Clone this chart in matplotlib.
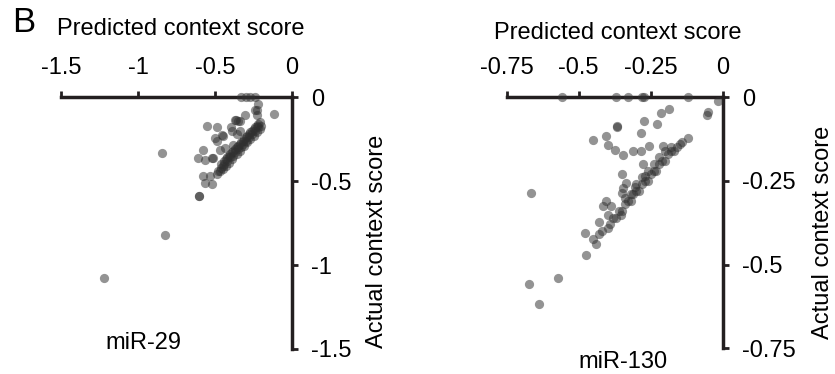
import matplotlib
matplotlib.use("Agg")
import matplotlib.pyplot as plt

plt.rcParams['font.family'] = ['Liberation Sans', 'DejaVu Sans']

# miR-29: predicted vs actual context score
mir29_pred = [-0.33, -0.30, -0.27, -0.24, -0.117, -0.22, -0.225, -0.225, -0.305, -0.366,
              -0.338, -0.554, -0.489, -0.398, -0.355, -0.456, -0.489, -0.846, -0.576, -0.608,
              -0.521, -0.468, -0.435, -0.576, -0.532, -0.565, -0.521, -0.602, -0.602, -0.825,
              -1.219, -0.37, -0.349, -0.24, -0.446, -0.392, -0.338, -0.381, -0.5, -0.565,
              -0.511,
              -0.49, -0.47, -0.46, -0.45, -0.44, -0.43, -0.42, -0.41, -0.40, -0.39,
              -0.38, -0.37, -0.36, -0.35, -0.34, -0.33, -0.32, -0.31, -0.30, -0.29,
              -0.28, -0.27, -0.26, -0.25, -0.24, -0.23, -0.22, -0.21, -0.20, -0.22,
              -0.24, -0.26, -0.28, -0.30, -0.32, -0.34, -0.36, -0.38, -0.40, -0.42,
              -0.44, -0.46, -0.48, -0.45, -0.21, -0.23, -0.25, -0.27, -0.29, -0.31,
              -0.33, -0.35, -0.37, -0.39, -0.41, -0.43]
mir29_act = [0.0, 0.0, 0.0, 0.0, -0.10, -0.04, -0.076, -0.105, -0.105, -0.135,
             -0.145, -0.175, -0.179, -0.179, -0.218, -0.224, -0.264, -0.335, -0.318, -0.363,
             -0.363, -0.314, -0.304, -0.473, -0.473, -0.512, -0.516, -0.588, -0.59, -0.819,
             -1.077, -0.135, -0.145, -0.076, -0.234, -0.205, -0.205, -0.284, -0.244, -0.373,
             -0.363,
             -0.46, -0.44, -0.42, -0.43, -0.40, -0.41, -0.38, -0.39, -0.36, -0.37,
             -0.35, -0.33, -0.34, -0.31, -0.32, -0.30, -0.28, -0.29, -0.26, -0.27,
             -0.24, -0.25, -0.22, -0.23, -0.20, -0.21, -0.18, -0.19, -0.17, -0.16,
             -0.18, -0.20, -0.22, -0.24, -0.26, -0.28, -0.30, -0.32, -0.34, -0.36,
             -0.38, -0.40, -0.44, -0.41, -0.15, -0.17, -0.19, -0.21, -0.23, -0.25,
             -0.27, -0.29, -0.31, -0.33, -0.35, -0.37]

# miR-130: predicted vs actual context score
mir130_pred = [-0.559, -0.370, -0.330, -0.281, -0.273, -0.119, -0.015, -0.05, -0.053, -0.185,
               -0.214, -0.272, -0.227, -0.366, -0.366, -0.285, -0.451, -0.405, -0.397, -0.374,
               -0.345, -0.313, -0.285, -0.255, -0.206, -0.122, -0.142, -0.278, -0.351, -0.336,
               -0.345, -0.351, -0.305, -0.270, -0.666, -0.405, -0.415, -0.389, -0.397, -0.354,
               -0.428, -0.478, -0.451, -0.440, -0.475, -0.571, -0.672, -0.637,
               -0.40, -0.39, -0.38, -0.37, -0.36, -0.35, -0.34, -0.33, -0.32, -0.31,
               -0.30, -0.29, -0.28, -0.27, -0.26, -0.25, -0.24, -0.23, -0.22, -0.21,
               -0.20, -0.19, -0.18, -0.17, -0.16, -0.15, -0.34, -0.30, -0.26, -0.22,
               -0.32, -0.28, -0.24, -0.20, -0.18, -0.43, -0.42]
mir130_act = [0.0, 0.0, 0.0, 0.0, 0.0, 0.0, -0.013, -0.046, -0.053, -0.036,
              -0.048, -0.073, -0.080, -0.087, -0.09, -0.107, -0.127, -0.117, -0.142, -0.157,
              -0.173, -0.162, -0.162, -0.145, -0.145, -0.122, -0.135, -0.199, -0.231, -0.256,
              -0.271, -0.286, -0.268, -0.236, -0.288, -0.311, -0.324, -0.326, -0.353, -0.353,
              -0.373, -0.405, -0.425, -0.44, -0.471, -0.539, -0.557, -0.618,
              -0.39, -0.38, -0.36, -0.36, -0.34, -0.34, -0.32, -0.31, -0.31, -0.29,
              -0.28, -0.28, -0.26, -0.25, -0.25, -0.23, -0.22, -0.22, -0.20, -0.19,
              -0.19, -0.17, -0.16, -0.16, -0.15, -0.14, -0.30, -0.26, -0.22, -0.18,
              -0.29, -0.24, -0.20, -0.16, -0.15, -0.41, -0.40]

left_xticks = [-1.5, -1, -0.5, 0]
left_yticks = [0, -0.5, -1, -1.5]
right_xticks = [-0.75, -0.5, -0.25, 0]
right_yticks = [0, -0.25, -0.5, -0.75]

W, H = 835, 374
fig = plt.figure(figsize=(W / 100, H / 100), dpi=100)


def px(x0, y0, x1, y1):
    # pixel box (top-left origin) -> figure fraction rect
    return [x0 / W, 1 - y1 / H, (x1 - x0) / W, (y1 - y0) / H]


def style_axis(ax, xticks, yticks, lim):
    ax.set_xlim(lim, 0)
    ax.set_ylim(lim, 0)
    for s in ['left', 'bottom']:
        ax.spines[s].set_visible(False)
    for s in ['top', 'right']:
        ax.spines[s].set_linewidth(2.5)
        ax.spines[s].set_color('#231f20')
    ax.xaxis.tick_top()
    ax.yaxis.tick_right()
    ax.set_xticks(xticks)
    ax.set_yticks(yticks)
    ax.set_xticklabels([f"{t:g}" for t in xticks])
    ax.set_yticklabels([f"{t:g}" for t in yticks])
    ax.tick_params(direction='out', length=4, width=2, color='#231f20',
                   labelsize=17, pad=9)
    ax.tick_params(axis='y', pad=10)
    ax.patch.set_visible(False)


ax1 = fig.add_axes(px(61, 97, 292, 349))
ax1.scatter(mir29_pred, mir29_act, s=44, color='#303030', alpha=0.52,
            linewidths=0, clip_on=False, zorder=3)
style_axis(ax1, left_xticks, left_yticks, -1.5)

ax2 = fig.add_axes(px(506.7, 97, 722.7, 348.3))
ax2.scatter(mir130_pred, mir130_act, s=44, color='#303030', alpha=0.52,
            linewidths=0, clip_on=False, zorder=3)
style_axis(ax2, right_xticks, right_yticks, -0.75)

fig.text(12 / W, 1 - 23 / H, "B", fontsize=25, va='center', ha='left')
fig.text(181 / W, 1 - 29 / H, "Predicted context score", fontsize=17, ha='center', va='center')
fig.text(618 / W, 1 - 33 / H, "Predicted context score", fontsize=17, ha='center', va='center')
fig.text(377 / W, 1 - 241 / H, "Actual context score", fontsize=17, ha='center', va='center',
         rotation=90)
fig.text(823 / W, 1 - 232 / H, "Actual context score", fontsize=17, ha='center', va='center',
         rotation=90)
fig.text(143 / W, 1 - 343 / H, "miR-29", fontsize=17, ha='center', va='center')
fig.text(623 / W, 1 - 362 / H, "miR-130", fontsize=17, ha='center', va='center')

fig.savefig("out.png", dpi=100)
